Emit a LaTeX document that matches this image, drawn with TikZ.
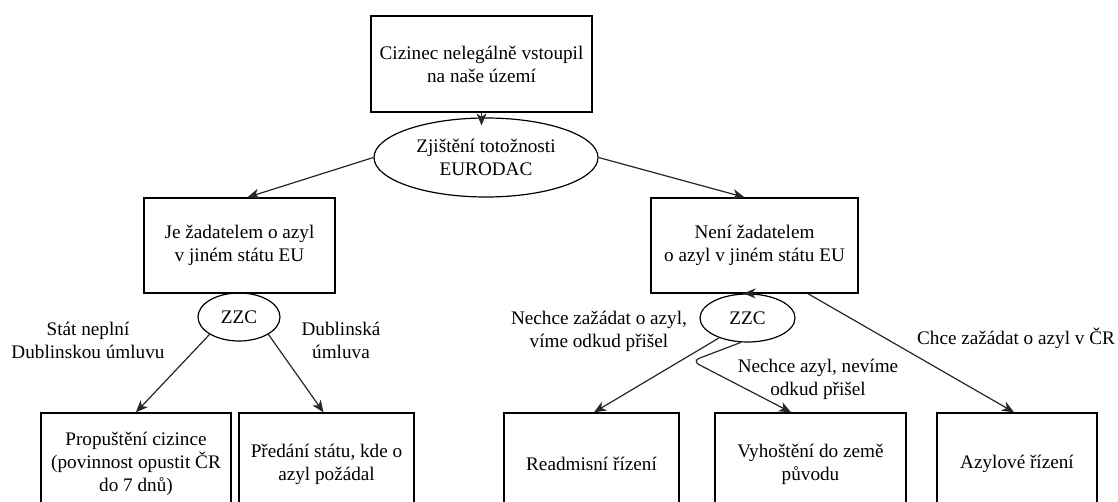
\documentclass[tikz,border=0pt]{standalone}
\usepackage{fontspec}
\setmainfont{Liberation Serif}
\newfontfamily\timesfont{Liberation Serif}
\usetikzlibrary{arrows.meta,shapes.geometric}
\newcommand\dfont{\timesfont\fontsize{19.2}{23}\selectfont}
\begin{document}
\begin{tikzpicture}[x=1pt,y=-1pt,
  box/.style={draw=black, line width=1.4pt, rectangle, align=center, inner sep=0pt, font=\dfont},
  oval/.style={draw=black, line width=1.2pt, ellipse, align=center, inner sep=0pt, font=\dfont},
  lbl/.style={align=center, inner sep=0pt, font=\dfont},
  arr/.style={-{Stealth[length=12pt,width=10pt,inset=3.5pt]}, line width=1.2pt, draw=black!85}]
\useasboundingbox (0,0) rectangle (1118,502);
\clip (0,0) rectangle (1118,502);
\fill[white] (0,0) rectangle (1118,502);
% nodes
\node[box, minimum width=221pt, minimum height=96pt] (top) at (481.5,64) {Cizinec nelegálně vstoupil\\na naše území};
\node[oval, minimum width=224pt, minimum height=79pt] (ell) at (486,157.5) {Zjištění totožnosti\\EURODAC};
\node[box, minimum width=191pt, minimum height=95pt] (je) at (239.5,245.5) {Je žadatelem o azyl\\v jiném státu EU};
\node[box, minimum width=207pt, minimum height=95pt] (neni) at (754.5,245.5) {Není žadatelem\\o azyl v jiném státu EU};
\node[oval, minimum width=82pt, minimum height=48pt] (zzcL) at (239,317) {ZZC};
\node[oval, minimum width=95pt, minimum height=48pt] (zzcR) at (747.5,318) {ZZC};
\node[box, minimum width=190pt, minimum height=102pt] (prop) at (136,464) {Propuštění cizince\\(povinnost opustit ČR\\do 7 dnů)};
\node[box, minimum width=175pt, minimum height=102pt] (pred) at (326.5,464) {Předání státu, kde o\\azyl požádal};
\node[box, minimum width=175pt, minimum height=102pt] (read) at (591.5,464) {Readmisní řízení};
\node[box, minimum width=191pt, minimum height=102pt] (vyh) at (810.5,464) {Vyhoštění do země\\původu};
\node[box, minimum width=160pt, minimum height=102pt] (azyl) at (1017,464) {Azylové řízení};
% labels
\node[lbl] (l1) at (88,340) {Stát neplní\\Dublinskou úmluvu};
\node[lbl] (l2) at (341,340) {Dublinská\\úmluva};
\node[lbl] (l3) at (599,331.5) {Nechce zažádat o azyl,\\víme odkud přišel};
\node[lbl] (l4) at (818,379) {Nechce azyl, nevíme\\odkud přišel};
\node[lbl] (l5) at (1016,338) {Chce zažádat o azyl v ČR};
\coordinate (bend) at (692,361);
% connectors
\draw[arr] (top.south) -- ([yshift=-8pt]top.south |- ell.north);
\draw[arr] (ell.west) -- ([xshift=8pt]je.north);
\draw[arr] (ell.east) -- ([xshift=-10pt]neni.north);
\draw[arr] (zzcL.south west) -- (prop.north);
\draw[arr] (zzcL.south east) -- ([xshift=-3pt]pred.north);
\draw[arr] (zzcR.215) -- ([xshift=2.5pt]read.north);
\draw[arr, rounded corners=8pt] (zzcR.255) -- (bend) -- ([xshift=-19.5pt]vyh.north);
\draw[arr] ([xshift=53.5pt]neni.south) -- ([xshift=-3pt]azyl.north);
\draw[arr] ([xshift=9pt]zzcR.north) -- ([xshift=-4pt]zzcR.north);
\end{tikzpicture}
\end{document}
